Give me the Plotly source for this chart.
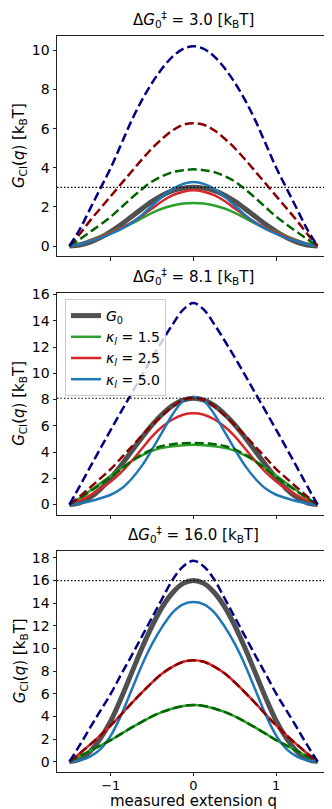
import plotly.graph_objects as go

# ---------------- data ----------------
q = [-1.5, -1.375, -1.25, -1.125, -1.0, -0.875, -0.75, -0.625, -0.5, -0.375, -0.25, -0.125, 0.0,
     0.125, 0.25, 0.375, 0.5, 0.625, 0.75, 0.875, 1.0, 1.125, 1.25, 1.375, 1.5]

barriers = [3.0, 8.1, 16.0]
kappas = [1.5, 2.5, 5.0]

# panel 1 (ΔG = 3.0)
p1_G0 = [0, 0.05, 0.2, 0.43, 0.74, 1.1, 1.5, 1.9, 2.28, 2.6, 2.83, 2.96, 3.0,
         2.96, 2.83, 2.6, 2.28, 1.9, 1.5, 1.1, 0.74, 0.43, 0.2, 0.05, 0]
p1_k15 = [0, 0.12, 0.3, 0.5, 0.72, 0.93, 1.15, 1.42, 1.7, 1.92, 2.07, 2.17, 2.2,
          2.17, 2.07, 1.92, 1.7, 1.42, 1.15, 0.93, 0.72, 0.5, 0.3, 0.12, 0]
p1_k25 = [0, 0.1, 0.27, 0.46, 0.68, 0.92, 1.2, 1.55, 1.92, 2.3, 2.6, 2.78, 2.85,
          2.78, 2.6, 2.3, 1.92, 1.55, 1.2, 0.92, 0.68, 0.46, 0.27, 0.1, 0]
p1_k50 = [0, 0.09, 0.25, 0.42, 0.62, 0.86, 1.17, 1.58, 2.06, 2.53, 2.92, 3.18, 3.27,
          3.18, 2.92, 2.53, 2.06, 1.58, 1.17, 0.86, 0.62, 0.42, 0.25, 0.09, 0]
p1_d15 = [0, 0.35, 0.72, 1.1, 1.5, 1.97, 2.45, 2.9, 3.3, 3.58, 3.78, 3.88, 3.92,
          3.88, 3.78, 3.58, 3.3, 2.9, 2.45, 1.97, 1.5, 1.1, 0.72, 0.35, 0]
p1_d25 = [0, 0.62, 1.3, 1.93, 2.55, 3.18, 3.8, 4.42, 5.0, 5.5, 5.92, 6.2, 6.28,
          6.2, 5.92, 5.5, 5.0, 4.42, 3.8, 3.18, 2.55, 1.93, 1.3, 0.62, 0]
p1_d50 = [0, 0.85, 1.9, 2.95, 4.0, 5.2, 6.4, 7.45, 8.35, 9.1, 9.7, 10.08, 10.22,
          10.08, 9.7, 9.1, 8.35, 7.45, 6.4, 5.2, 4.0, 2.95, 1.9, 0.85, 0]

# panel 2 (ΔG = 8.1)
p2_G0 = [0, 0.14, 0.54, 1.18, 2.03, 3.0, 4.05, 5.1, 6.08, 6.9, 7.56, 7.96, 8.1,
         7.96, 7.56, 6.9, 6.08, 5.1, 4.05, 3.0, 2.03, 1.18, 0.54, 0.14, 0]
p2_k15 = [0, 0.5, 1.05, 1.62, 2.2, 2.75, 3.3, 3.75, 4.1, 4.32, 4.45, 4.53, 4.55,
          4.53, 4.45, 4.32, 4.1, 3.75, 3.3, 2.75, 2.2, 1.62, 1.05, 0.5, 0]
p2_k25 = [0, 0.3, 0.7, 1.2, 1.75, 2.45, 3.3, 4.25, 5.2, 5.95, 6.5, 6.85, 6.95,
          6.85, 6.5, 5.95, 5.2, 4.25, 3.3, 2.45, 1.75, 1.2, 0.7, 0.3, 0]
p2_k50 = [0, 0.08, 0.25, 0.48, 0.75, 1.2, 1.95, 2.95, 4.2, 5.55, 6.9, 7.9, 8.2,
          7.9, 6.9, 5.55, 4.2, 2.95, 1.95, 1.2, 0.75, 0.48, 0.25, 0.08, 0]
p2_d15 = [0, 0.48, 1.0, 1.55, 2.1, 2.7, 3.3, 3.8, 4.2, 4.47, 4.6, 4.68, 4.7,
          4.68, 4.6, 4.47, 4.2, 3.8, 3.3, 2.7, 2.1, 1.55, 1.0, 0.48, 0]
p2_d25 = [0, 0.62, 1.3, 2.0, 2.7, 3.55, 4.4, 5.25, 6.05, 6.8, 7.5, 7.97, 8.15,
          7.97, 7.5, 6.8, 6.05, 5.25, 4.4, 3.55, 2.7, 2.0, 1.3, 0.62, 0]
p2_d50 = [0, 1.4, 2.85, 4.28, 5.7, 7.08, 8.45, 9.85, 11.2, 12.5, 13.75, 14.85, 15.35,
          14.85, 13.75, 12.5, 11.2, 9.85, 8.45, 7.08, 5.7, 4.28, 2.85, 1.4, 0]

# panel 3 (ΔG = 16.0)
p3_G0 = [0, 0.22, 0.9, 2.05, 3.6, 5.6, 7.8, 10.0, 12.0, 13.7, 14.95, 15.75, 16.0,
         15.75, 14.95, 13.7, 12.0, 10.0, 7.8, 5.6, 3.6, 2.05, 0.9, 0.22, 0]
p3_k15 = [0, 0.47, 0.95, 1.42, 1.9, 2.45, 3.0, 3.52, 4.0, 4.4, 4.7, 4.92, 5.0,
          4.92, 4.7, 4.4, 4.0, 3.52, 3.0, 2.45, 1.9, 1.42, 0.95, 0.47, 0]
p3_k25 = [0, 0.72, 1.5, 2.32, 3.2, 4.15, 5.15, 6.1, 7.0, 7.8, 8.4, 8.82, 8.95,
          8.82, 8.4, 7.8, 7.0, 6.1, 5.15, 4.15, 3.2, 2.32, 1.5, 0.72, 0]
p3_k50 = [0, 0.12, 0.45, 1.1, 2.3, 4.1, 6.3, 8.5, 10.4, 11.95, 13.2, 13.9, 14.1,
          13.9, 13.2, 11.95, 10.4, 8.5, 6.3, 4.1, 2.3, 1.1, 0.45, 0.12, 0]
p3_d15 = [0, 0.47, 0.95, 1.42, 1.9, 2.45, 3.0, 3.52, 4.0, 4.4, 4.7, 4.92, 5.0,
          4.92, 4.7, 4.4, 4.0, 3.52, 3.0, 2.45, 1.9, 1.42, 0.95, 0.47, 0]
p3_d25 = [0, 0.72, 1.5, 2.32, 3.2, 4.15, 5.15, 6.1, 7.0, 7.8, 8.4, 8.82, 8.95,
          8.82, 8.4, 7.8, 7.0, 6.1, 5.15, 4.15, 3.2, 2.32, 1.5, 0.72, 0]
p3_d50 = [0, 1.45, 3.0, 4.5, 6.0, 7.7, 9.35, 11.05, 12.75, 14.45, 16.1, 17.25, 17.75,
          17.25, 16.1, 14.45, 12.75, 11.05, 9.35, 7.7, 6.0, 4.5, 3.0, 1.45, 0]

panels = [
    dict(G0=p1_G0, solid=[p1_k15, p1_k25, p1_k50], dashed=[p1_d15, p1_d25, p1_d50]),
    dict(G0=p2_G0, solid=[p2_k15, p2_k25, p2_k50], dashed=[p2_d15, p2_d25, p2_d50]),
    dict(G0=p3_G0, solid=[p3_k15, p3_k25, p3_k50], dashed=[p3_d15, p3_d25, p3_d50]),
]

y_ranges = [[-0.51, 10.74], [-0.77, 16.12], [-0.89, 18.64]]
y_ticks = [[0, 2, 4, 6, 8, 10], [0, 2, 4, 6, 8, 10, 12, 14, 16],
           [0, 2, 4, 6, 8, 10, 12, 14, 16, 18]]
x_ticks = [-1, 0, 1]
x_tick_text = ["\u22121", "0", "1"]

# ---------------- style ----------------
W, H = 332, 809
ML, MR = 49, 10
solid_colors = ["#2ca02c", "#d62728", "#1f77b4"]
dash_colors = ["#006400", "#8b0000", "#000080"]
g0_color = "#505050"
FONT = "DejaVu Sans"
FS = 15
TFS = 14
XTFS = 13

# pixel positions of panels (top, bottom)
panel_px = [(28, 248), (285, 506.7), (542.7, 763.7)]

fig = go.Figure()

for i, p in enumerate(panels):
    xa = "x" if i == 0 else f"x{i+1}"
    ya = "y" if i == 0 else f"y{i+1}"
    show = (i == 1)
    fig.add_trace(go.Scatter(x=q, y=p["G0"], mode="lines", line=dict(color=g0_color, width=5, shape="spline"),
                             name="<i>G</i><sub>0</sub>", showlegend=show, xaxis=xa, yaxis=ya))
    for k, (vals, col) in enumerate(zip(p["solid"], solid_colors)):
        fig.add_trace(go.Scatter(x=q, y=vals, mode="lines", line=dict(color=col, width=2.5, shape="spline"),
                                 name=f"<i>\u03ba<sub>l</sub></i> = {kappas[k]}", showlegend=show,
                                 xaxis=xa, yaxis=ya))
    for k, (vals, col) in enumerate(zip(p["dashed"], dash_colors)):
        fig.add_trace(go.Scatter(x=q, y=vals, mode="lines",
                                 line=dict(color=col, width=2.5, shape="spline", dash="9px,4px"),
                                 showlegend=False, xaxis=xa, yaxis=ya))
    # barrier reference line
    fig.add_shape(type="line", xref=f"{xa} domain", yref=ya, x0=0, x1=1, y0=barriers[i], y1=barriers[i],
                  line=dict(color="black", width=1.2, dash="1.5px,2px"))

    top, bot = panel_px[i]
    dom = [1 - bot / H, 1 - top / H]
    axis_common = dict(showline=True, mirror=True, linecolor="#222222", linewidth=1,
                       ticks="outside", ticklen=3.5, tickcolor="#222222", showgrid=False, zeroline=False)
    fig.update_layout(**{
        ("xaxis" if i == 0 else f"xaxis{i+1}"): dict(
            domain=[0, 1], anchor=ya, range=[-1.65, 1.65], tickvals=x_ticks, ticktext=x_tick_text,
            showticklabels=(i == 2), ticklabelstandoff=-2,
            tickfont=dict(family=FONT, size=XTFS, color="black"), **axis_common),
        ("yaxis" if i == 0 else f"yaxis{i+1}"): dict(
            domain=dom, anchor=xa, range=y_ranges[i], tickvals=y_ticks[i],
            tickfont=dict(family=FONT, size=TFS, color="black"), **axis_common),
    })
    # subplot title
    fig.add_annotation(text=f"\u0394<i>G</i><sub>0</sub><sup>\u2021</sup> = {barriers[i]:.1f} [k<sub>B</sub>T]",
                       xref="paper", yref="paper", x=0.5, y=1 - (top - 4) / H, xanchor="center",
                       yanchor="bottom", showarrow=False, font=dict(family=FONT, size=FS, color="black"))
    # y-axis label
    fig.add_annotation(text="<i>G</i><sub>CI</sub>(<i>q</i>) [k<sub>B</sub>T]",
                       xref="paper", yref="paper", x=(12 - ML) / (W - ML - MR), y=1 - (top + bot) / 2 / H,
                       xanchor="center", yanchor="middle", textangle=-90, showarrow=False,
                       font=dict(family=FONT, size=FS, color="black"))

fig.add_annotation(text="measured extension q", xref="paper", yref="paper", x=0.5, y=1 - 793 / H,
                   xanchor="center", yanchor="middle", showarrow=False,
                   font=dict(family=FONT, size=FS, color="black"))

fig.update_layout(
    width=W, height=H,
    margin=dict(l=ML, r=MR, t=0, b=0, autoexpand=False),
    paper_bgcolor="white", plot_bgcolor="white",
    font=dict(family=FONT, size=FS, color="black"),
    legend=dict(x=(57 - ML) / (W - ML - MR), y=1 - 291 / H, xanchor="left", yanchor="top",
                bgcolor="rgba(255,255,255,0.8)", bordercolor="#cccccc", borderwidth=1,
                font=dict(family=FONT, size=14, color="black"), tracegroupgap=0, itemwidth=30),
)

fig.write_html("out.html")
